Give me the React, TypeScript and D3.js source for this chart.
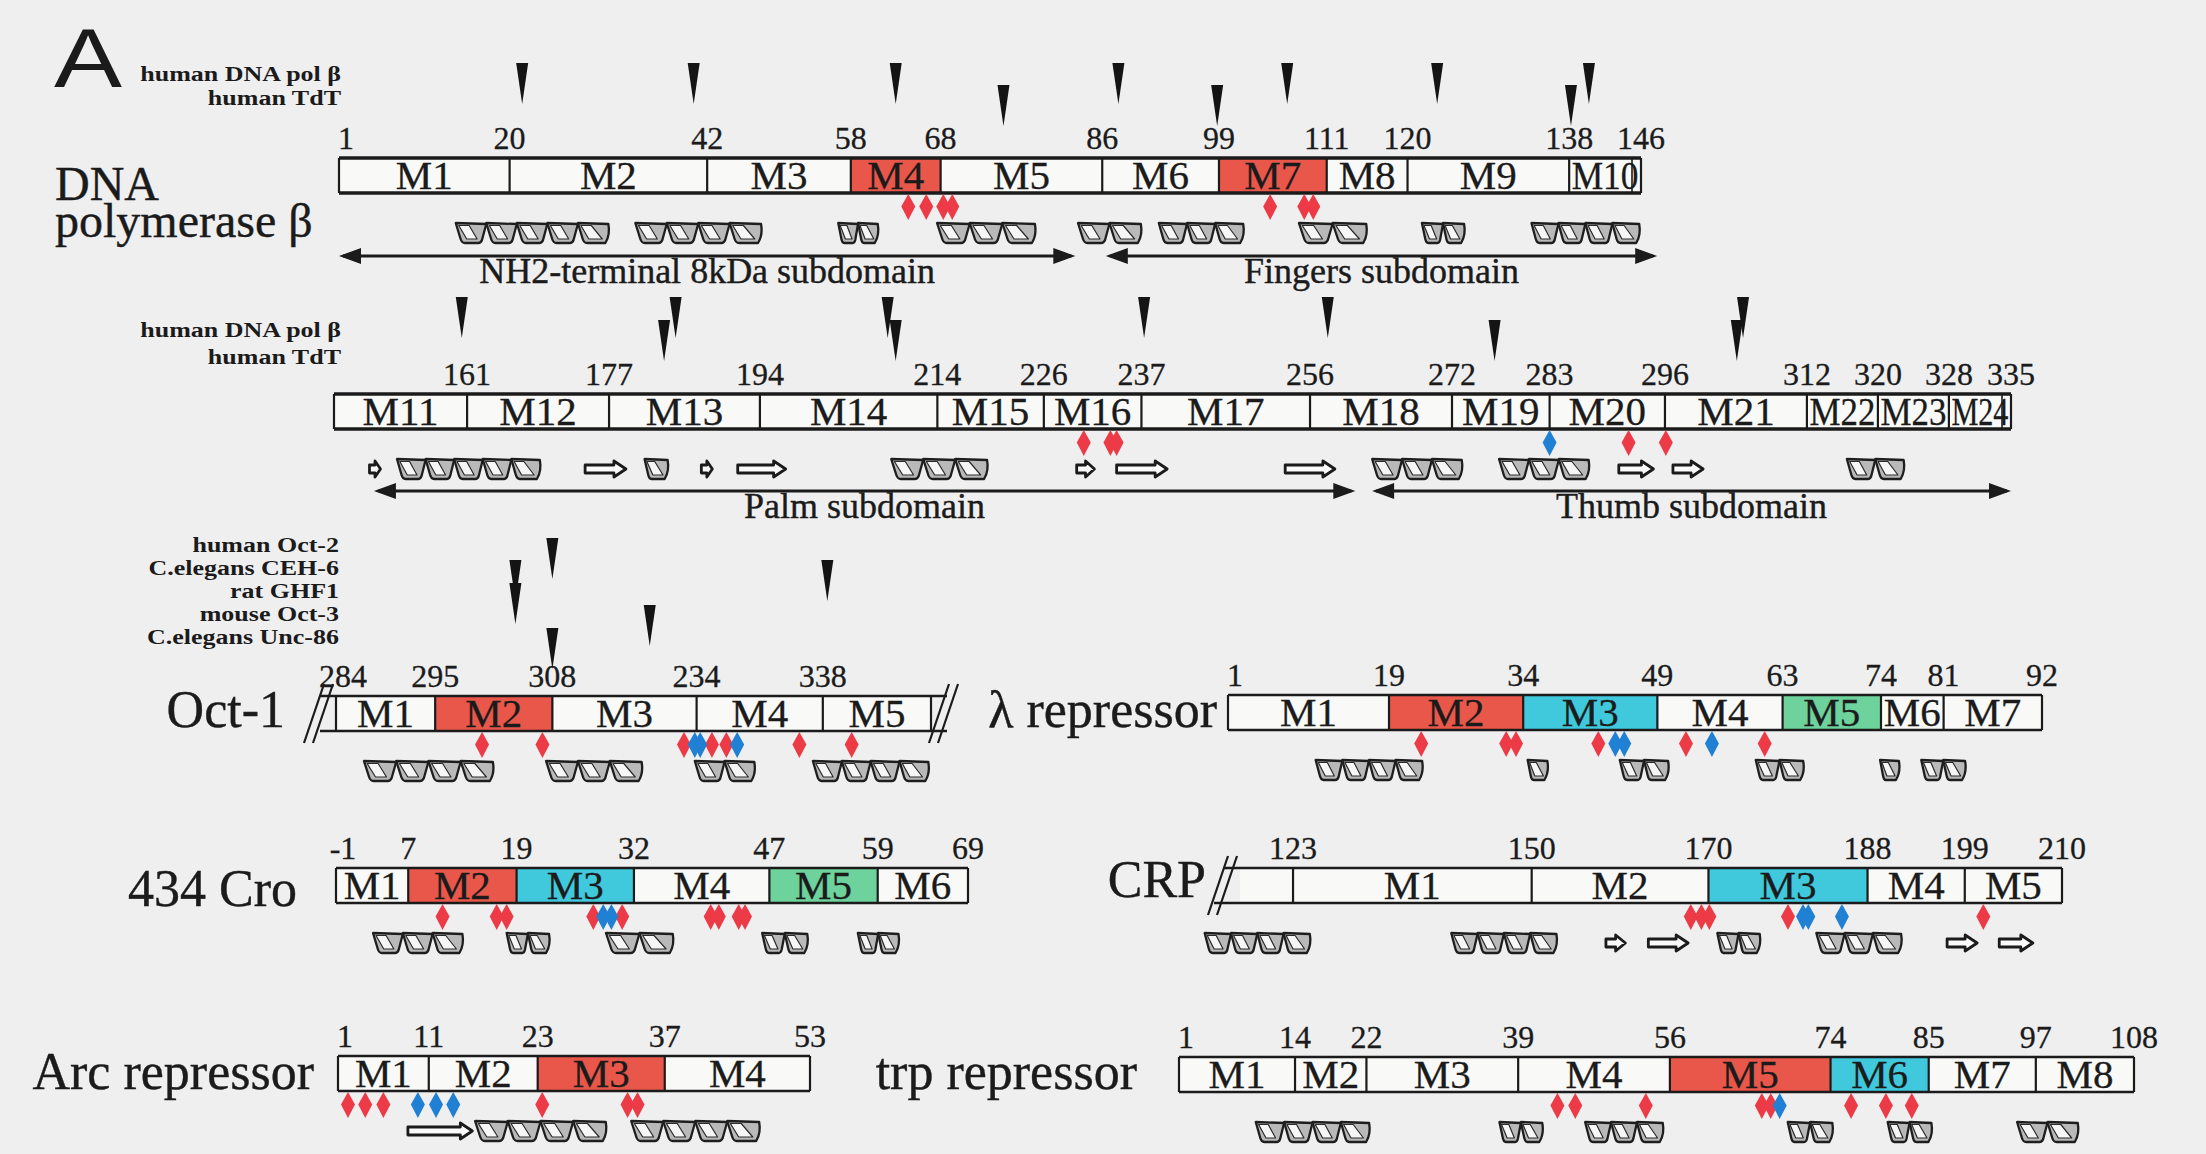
import React from "react";
import * as d3 from "d3";

const W = 2206;
const H = 1154;

// ===== DNA polymerase β, part 1 (residues 1–146)
const POLB1_BOUNDS = [1, 20, 42, 58, 68, 86, 99, 111, 120, 138, 146];
const POLB1_TICKS = ["1", "20", "42", "58", "68", "86", "99", "111", "120", "138", "146"];
const POLB1_MOTIFS = ["M1", "M2", "M3", "M4", "M5", "M6", "M7", "M8", "M9", "M10"];
const POLB1_FILLS = ["w", "w", "w", "r", "w", "w", "r", "w", "w", "w"];
const POLB1_RED = [64.4, 66.4, 68.3, 69.3, 104.7, 108.5, 109.5];
const POLB1_BLUE: number[] = [];
const POLB1_HELICES = [[14, 31, 5], [34, 48, 4], [56.6, 61, 2], [67.6, 78.5, 3], [83.3, 90.3, 2], [92.3, 101.7, 3], [107.9, 115.4, 2], [121.6, 126.3, 2], [133.8, 145.8, 4]];
const POLB1_STRANDS: number[][] = [];
const POLB1_MARKS = [[21.4, 0], [40.5, 0], [63, 0], [75, 1], [87.8, 0], [98.8, 1], [106.6, 0], [123.3, 0], [138.2, 1], [140.2, 0]];
const POLB1_DOMAINS: [string, number, number][] = [["NH2-terminal 8kDa subdomain", 1, 83], ["Fingers subdomain", 86.4, 147.8]];
const POLB_SPECIES = ["human DNA pol β", "human TdT"];

// ===== DNA polymerase β, part 2 (residues 146–335)
const POLB2_BOUNDS = [146, 161, 177, 194, 214, 226, 237, 256, 272, 283, 296, 312, 320, 328, 335];
const POLB2_TICKS = ["", "161", "177", "194", "214", "226", "237", "256", "272", "283", "296", "312", "320", "328", "335"];
const POLB2_MOTIFS = ["M11", "M12", "M13", "M14", "M15", "M16", "M17", "M18", "M19", "M20", "M21", "M22", "M23", "M24"];
const POLB2_FILLS = ["w", "w", "w", "w", "w", "w", "w", "w", "w", "w", "w", "w", "w", "w"];
const POLB2_RED = [230.5, 233.5, 234.2, 291.9, 296.1];
const POLB2_BLUE = [283];
const POLB2_HELICES = [[153.1, 169.2, 5], [181, 183.6, 1], [208.8, 219.6, 3], [263, 273.1, 3], [277.3, 287.4, 3], [316.5, 322.9, 2]];
const POLB2_STRANDS = [[150, 151.2], [174.3, 178.9], [187.4, 188.6], [191.5, 196.9], [229.7, 231.7], [234.2, 239.9], [253.2, 258.8], [290.8, 294.7], [296.9, 300.3]];
const POLB2_MARKS = [[160.4, 0], [184.5, 0], [183.2, 1], [208.4, 0], [209.3, 1], [237.3, 0], [258, 0], [276.8, 1], [304.8, 0], [304.1, 1]];
const POLB2_DOMAINS: [string, number, number][] = [["Palm subdomain", 150.5, 261.1], ["Thumb subdomain", 263, 335]];

// ===== Oct-1
const OCT_BOUNDS = [284, 295, 308, 324, 338, 350];
const OCT_TICKS = ["284", "295", "308", "234", "338", ""];
const OCT_MOTIFS = ["M1", "M2", "M3", "M4", "M5"];
const OCT_FILLS = ["w", "r", "w", "w", "w"];
const OCT_RED = [300.2, 306.9, 322.6, 325.7, 327.3, 335.4, 341.2];
const OCT_BLUE = [323.8, 324.4, 328.5];
const OCT_HELICES = [[287.1, 301.4, 4], [307.3, 317.9, 3], [323.8, 330.4, 2], [336.9, 349.7, 4]];
const OCT_STRANDS: number[][] = [];
const OCT_MARKS = [[308, 0], [303.9, 1], [303.9, 2], [308, 4], [318.8, 3], [338.5, 1]];
const OCT_SPECIES = ["human Oct-2", "C.elegans CEH-6", "rat GHF1", "mouse Oct-3", "C.elegans Unc-86"];

// ===== λ repressor
const LAM_BOUNDS = [1, 19, 34, 49, 63, 74, 81, 92];
const LAM_TICKS = ["1", "19", "34", "49", "63", "74", "81", "92"];
const LAM_MOTIFS = ["M1", "M2", "M3", "M4", "M5", "M6", "M7"];
const LAM_FILLS = ["w", "r", "c", "w", "g", "w", "w"];
const LAM_RED = [22.6, 32.1, 33.2, 42.4, 52.2, 61];
const LAM_BLUE = [44.3, 45.3, 55.1];
const LAM_HELICES = [[10.8, 22.7, 4], [34.5, 36.7, 1], [44.8, 50.2, 2], [60, 65.3, 2], [73.9, 76, 1], [78.5, 83.4, 2]];
const LAM_STRANDS: number[][] = [];

// ===== 434 Cro
const CRO_BOUNDS = [-1, 7, 19, 32, 47, 59, 69];
const CRO_TICKS = ["-1", "7", "19", "32", "47", "59", "69"];
const CRO_MOTIFS = ["M1", "M2", "M3", "M4", "M5", "M6"];
const CRO_FILLS = ["w", "r", "c", "w", "g", "w"];
const CRO_RED = [10.8, 16.8, 17.9, 27.5, 30.7, 40.5, 41.4, 43.6, 44.3];
const CRO_BLUE = [28.6, 29.5];
const CRO_HELICES = [[3.1, 13, 3], [17.9, 22.6, 2], [28.9, 36.3, 2], [46.2, 51.2, 2], [56.8, 61.3, 2]];
const CRO_STRANDS: number[][] = [];

// ===== CRP
const CRP_BOUNDS = [117, 123, 150, 170, 188, 199, 210];
const CRP_TICKS = ["", "123", "150", "170", "188", "199", "210"];
const CRP_MOTIFS = ["", "M1", "M2", "M3", "M4", "M5"];
const CRP_FILLS = ["w", "w", "w", "c", "w", "w"];
const CRP_RED = [168, 169.2, 170.1, 179, 201.1];
const CRP_BLUE = [180.7, 181.3, 185.1];
const CRP_HELICES = [[113, 124.9, 4], [140.9, 152.8, 4], [171, 175.8, 2], [182.2, 191.8, 3]];
const CRP_STRANDS = [[158.4, 160.6], [163.2, 167.7], [197, 200.4], [202.9, 206.7]];

// ===== Arc repressor
const ARC_BOUNDS = [1, 11, 23, 37, 53];
const ARC_TICKS = ["1", "11", "23", "37", "53"];
const ARC_MOTIFS = ["M1", "M2", "M3", "M4"];
const ARC_FILLS = ["w", "w", "r", "w"];
const ARC_RED = [2.1, 4, 6, 23.5, 32.9, 34];
const ARC_BLUE = [9.8, 11.8, 13.7];
const ARC_HELICES = [[16.1, 30.5, 4], [33.3, 47.4, 4]];
const ARC_STRANDS = [[8.7, 15.8]];

// ===== trp repressor
const TRP_BOUNDS = [1, 14, 22, 39, 56, 74, 85, 97, 108];
const TRP_TICKS = ["1", "14", "22", "39", "56", "74", "85", "97", "108"];
const TRP_MOTIFS = ["M1", "M2", "M3", "M4", "M5", "M6", "M7", "M8"];
const TRP_FILLS = ["w", "w", "w", "w", "r", "c", "w", "w"];
const TRP_RED = [43.4, 45.4, 53.3, 66.3, 67.3, 76.3, 80.2, 83.1];
const TRP_BLUE = [68.3];
const TRP_HELICES = [[9.6, 22.3, 4], [36.9, 41.7, 2], [46.5, 55.2, 3], [69.2, 74.2, 2], [80.4, 85.3, 2], [94.9, 101.7, 2]];
const TRP_STRANDS: number[][] = [];

// ---------------- styling ----------------
const FILL: Record<string, string> = { w: "#f9f9f8", r: "#e9574a", c: "#40c9dc", g: "#6dd29b" };
const RED = "#ec3a46";
const BLUE = "#1f80d4";
const INK = "#1b1b1b";
const SERIF = "'Liberation Serif', 'Times New Roman', serif";
const BAR_H = 35;
const MOTIF_FS = 41;

type PanelDef = {
  key: string;
  bounds: number[];
  ticks: string[];
  motifs: string[];
  fills: string[];
  red: number[];
  blue: number[];
  helices: number[][];
  strands: number[][];
  marks?: number[][];
  markTops?: number[];
  x0: number;
  x1: number;
  y: number;
  heavy?: boolean;
  breakLeft?: boolean;
  breakRight?: boolean;
  openLeft?: boolean;
  domains?: [string, number, number][];
  domainY?: number;
};

const PANELS: PanelDef[] = [
  { key: "polb1", bounds: POLB1_BOUNDS, ticks: POLB1_TICKS, motifs: POLB1_MOTIFS, fills: POLB1_FILLS, red: POLB1_RED, blue: POLB1_BLUE, helices: POLB1_HELICES, strands: POLB1_STRANDS, marks: POLB1_MARKS, markTops: [63, 85], x0: 339, x1: 1641, y: 158, heavy: true, domains: POLB1_DOMAINS, domainY: 256 },
  { key: "polb2", bounds: POLB2_BOUNDS, ticks: POLB2_TICKS, motifs: POLB2_MOTIFS, fills: POLB2_FILLS, red: POLB2_RED, blue: POLB2_BLUE, helices: POLB2_HELICES, strands: POLB2_STRANDS, marks: POLB2_MARKS, markTops: [297, 320], x0: 334, x1: 2011, y: 394, heavy: true, domains: POLB2_DOMAINS, domainY: 491 },
  { key: "oct", bounds: OCT_BOUNDS, ticks: OCT_TICKS, motifs: OCT_MOTIFS, fills: OCT_FILLS, red: OCT_RED, blue: OCT_BLUE, helices: OCT_HELICES, strands: OCT_STRANDS, marks: OCT_MARKS, markTops: [538, 560, 583, 605, 628], x0: 336, x1: 931, y: 696, breakLeft: true, breakRight: true },
  { key: "lam", bounds: LAM_BOUNDS, ticks: LAM_TICKS, motifs: LAM_MOTIFS, fills: LAM_FILLS, red: LAM_RED, blue: LAM_BLUE, helices: LAM_HELICES, strands: LAM_STRANDS, x0: 1228, x1: 2042, y: 695 },
  { key: "cro", bounds: CRO_BOUNDS, ticks: CRO_TICKS, motifs: CRO_MOTIFS, fills: CRO_FILLS, red: CRO_RED, blue: CRO_BLUE, helices: CRO_HELICES, strands: CRO_STRANDS, x0: 336, x1: 968, y: 868 },
  { key: "crp", bounds: CRP_BOUNDS, ticks: CRP_TICKS, motifs: CRP_MOTIFS, fills: CRP_FILLS, red: CRP_RED, blue: CRP_BLUE, helices: CRP_HELICES, strands: CRP_STRANDS, x0: 1240, x1: 2062, y: 868, breakLeft: true, openLeft: true },
  { key: "arc", bounds: ARC_BOUNDS, ticks: ARC_TICKS, motifs: ARC_MOTIFS, fills: ARC_FILLS, red: ARC_RED, blue: ARC_BLUE, helices: ARC_HELICES, strands: ARC_STRANDS, x0: 338, x1: 810, y: 1056 },
  { key: "trp", bounds: TRP_BOUNDS, ticks: TRP_TICKS, motifs: TRP_MOTIFS, fills: TRP_FILLS, red: TRP_RED, blue: TRP_BLUE, helices: TRP_HELICES, strands: TRP_STRANDS, x0: 1179, x1: 2134, y: 1057 },
];

const lineGen = d3.line();
const poly = (pts: [number, number][]) => (lineGen(pts) || "") + "Z";

// rough advance width of a motif label in the serif face
const labelWidth = (s: string, fs: number) => s.split("").reduce((acc, ch) => acc + (ch === "M" ? 0.889 : 0.5), 0) * fs;

function Helix({ xa, xb, n, y }: { xa: number; xb: number; n: number; y: number }) {
  const h = 20;
  const w = (xb - xa) / n;
  const els: React.ReactNode[] = [];
  for (let i = 0; i < n; i++) {
    const a = xa + i * w;
    const last = i === n - 1;
    const p = d3.path();
    p.moveTo(a, y);
    p.lineTo(a + w, y + 1);
    if (last) {
      p.quadraticCurveTo(a + w + 2, y + h * 0.6, a + w - 3, y + h);
    } else {
      p.lineTo(a + 0.86 * w, y + h - 3);
      p.quadraticCurveTo(a + 0.82 * w, y + h, a + 0.74 * w, y + h);
    }
    p.lineTo(a + 0.3 * w, y + h);
    p.quadraticCurveTo(a + 0.2 * w, y + h, a + 0.16 * w, y + h - 4);
    p.closePath();
    els.push(<path key={"o" + i} d={p.toString()} fill="#b9b9b9" stroke="#1e1e1e" strokeWidth={2.3} strokeLinejoin="round" />);
    els.push(
      <path
        key={"f" + i}
        d={poly([[a + 0.1 * w, y + 2.5], [a + 0.44 * w, y + 2.5], [a + (last ? 0.8 : 0.7) * w, y + h - 4], [a + 0.36 * w, y + h - 4]])}
        fill="#f6f6f6"
        stroke="#2a2a2a"
        strokeWidth={1.2}
        strokeLinejoin="round"
      />
    );
  }
  return <g>{els}</g>;
}

function Strand({ xa, xb, yc }: { xa: number; xb: number; yc: number }) {
  const L = Math.max(xb - xa, 11);
  const hl = Math.min(12, L * 0.5);
  const e = xa + L;
  return (
    <path
      d={poly([[xa, yc - 4], [e - hl, yc - 4], [e - hl, yc - 8], [e, yc], [e - hl, yc + 8], [e - hl, yc + 4], [xa, yc + 4]])}
      fill="#fafafa"
      stroke={INK}
      strokeWidth={2.8}
      strokeLinejoin="round"
    />
  );
}

function Diamond({ x, y, color }: { x: number; y: number; color: string }) {
  return <path d={poly([[x, y], [x + 7, y + 12.5], [x, y + 26], [x - 7, y + 12.5]])} fill={color} />;
}

function Wedge({ x, top }: { x: number; top: number }) {
  return <path d={poly([[x - 6, top], [x + 6, top], [x, top + 41]])} fill="#141414" />;
}

function Slashes({ cx, y }: { cx: number; y: number }) {
  return (
    <g stroke={INK} strokeWidth={2.2}>
      {[0, 9].map((d) => (
        <line key={d} x1={cx + d - 10} y1={y + BAR_H + 12} x2={cx + d + 10} y2={y - 12} />
      ))}
    </g>
  );
}

function Panel({ p }: { p: PanelDef }) {
  const b = p.bounds;
  const x = d3.scaleLinear().domain([b[0], b[b.length - 1]]).range([p.x0, p.x1]);
  const y = p.y;
  const yb = y + BAR_H;
  const ssY = yb + 30;
  const sw = 2.2;
  const lineW = p.heavy ? 3.6 : 2.6;
  const ext = p.breakLeft ? 16 : 0;
  const extR = p.breakRight ? 16 : 0;
  return (
    <g>
      {p.motifs.map((m, i) => (
        <rect key={"s" + i} x={x(b[i])} y={y} width={x(b[i + 1]) - x(b[i])} height={BAR_H} fill={FILL[p.fills[i]]} />
      ))}
      {b.slice(1, -1).map((v, i) => (
        <line key={"d" + i} x1={x(v)} x2={x(v)} y1={y} y2={yb} stroke={INK} strokeWidth={sw} />
      ))}
      <line x1={x(b[0]) - ext} x2={x(b[b.length - 1]) + extR} y1={y} y2={y} stroke={INK} strokeWidth={lineW} />
      <line x1={x(b[0]) - ext - (p.openLeft ? 10 : 0)} x2={x(b[b.length - 1]) + extR} y1={yb} y2={yb} stroke={INK} strokeWidth={lineW} />
      {!p.openLeft && <line x1={x(b[0])} x2={x(b[0])} y1={y} y2={yb} stroke={INK} strokeWidth={sw} />}
      <line x1={x(b[b.length - 1])} x2={x(b[b.length - 1])} y1={y} y2={yb} stroke={INK} strokeWidth={sw} />
      {p.heavy && <line x1={x(b[b.length - 1]) - 9} x2={x(b[b.length - 1]) - 9} y1={y} y2={yb} stroke={INK} strokeWidth={1.6} />}
      {p.breakLeft && <Slashes cx={x(b[0]) - 22} y={y} />}
      {p.breakRight && <Slashes cx={x(b[b.length - 1]) + 8} y={y} />}
      {p.motifs.map((m, i) => {
        if (!m) return null;
        const segW = x(b[i + 1]) - x(b[i]);
        const natural = labelWidth(m, MOTIF_FS);
        const fit = natural > segW - 4;
        return (
          <text
            key={"m" + i}
            x={(x(b[i]) + x(b[i + 1])) / 2}
            y={y + 31}
            textAnchor="middle"
            fontFamily={SERIF}
            fontSize={MOTIF_FS}
            fill={INK}
            stroke={INK}
            strokeWidth={0.3}
            {...(fit ? { textLength: segW - 5, lengthAdjust: "spacingAndGlyphs" } : {})}
          >
            {m}
          </text>
        );
      })}
      {p.ticks.map((t, i) =>
        t ? (
          <text key={"t" + i} x={x(b[i]) + (i === 0 ? 7 : 0)} y={y - 9} textAnchor="middle" fontFamily={SERIF} fontSize={32} fill={INK} stroke={INK} strokeWidth={0.3}>
            {t}
          </text>
        ) : null
      )}
      {p.red.map((r, i) => <Diamond key={"r" + i} x={x(r)} y={yb + 1} color={RED} />)}
      {p.blue.map((r, i) => <Diamond key={"bl" + i} x={x(r)} y={yb + 1} color={BLUE} />)}
      {p.helices.map((h, i) => <Helix key={"h" + i} xa={x(h[0])} xb={x(h[1])} n={h[2]} y={ssY} />)}
      {p.strands.map((s, i) => <Strand key={"st" + i} xa={x(s[0])} xb={x(s[1])} yc={ssY + 10} />)}
      {p.marks && p.markTops && p.marks.map((m, i) => <Wedge key={"w" + i} x={x(m[0])} top={p.markTops![m[1]]} />)}
      {p.domains &&
        p.domains.map(([label, r0, r1], i) => {
          const xa = x(r0);
          const xb = x(r1);
          const yy = p.domainY!;
          return (
            <g key={"dom" + i}>
              <line x1={xa + 4} x2={xb - 4} y1={yy} y2={yy} stroke={INK} strokeWidth={2.8} />
              <path d={poly([[xa, yy], [xa + 22, yy - 8], [xa + 22, yy + 8]])} fill={INK} />
              <path d={poly([[xb, yy], [xb - 22, yy - 8], [xb - 22, yy + 8]])} fill={INK} />
              <text x={(xa + xb) / 2} y={yy + 27} textAnchor="middle" fontFamily={SERIF} fontSize={36} fill={INK} stroke={INK} strokeWidth={0.4}>
                {label}
              </text>
            </g>
          );
        })}
    </g>
  );
}

const NAME_LABELS: [string, number, number][] = [
  ["Oct-1", 285, 727],
  ["λ repressor", 1217, 727],
  ["434 Cro", 297, 906],
  ["CRP", 1206, 897],
  ["Arc repressor", 314, 1089],
  ["trp repressor", 1137, 1089],
];

// species names: small bold serif, widened like the printed figure
function SpeciesList({ names, right, baselines }: { names: string[]; right: number; baselines: number[] }) {
  return (
    <g transform={`translate(${right},0) scale(1.3,1)`}>
      {names.map((s, i) => (
        <text key={s + i} x={0} y={baselines[i]} textAnchor="end" fontFamily={SERIF} fontWeight="bold" fontSize={20} fill={INK}>
          {s}
        </text>
      ))}
    </g>
  );
}

export default function App() {
  return (
    <div style={{ position: "absolute", left: 0, top: 0, width: W, height: H }}>
      <svg width={W} height={H} viewBox={`0 0 ${W} ${H}`} style={{ display: "block" }}>
        <rect x={0} y={0} width={W} height={H} fill="#efeff0" />
        <text x={54} y={87} fontFamily="'Liberation Sans', Arial, sans-serif" fontSize={84} fill={INK} textLength={68} lengthAdjust="spacingAndGlyphs">
          A
        </text>
        <text x={55} y={200} fontFamily={SERIF} fontSize={48} fill={INK} stroke={INK} strokeWidth={0.4}>DNA</text>
        <text x={55} y={237} fontFamily={SERIF} fontSize={48} fill={INK} stroke={INK} strokeWidth={0.4}>polymerase β</text>
        <SpeciesList names={POLB_SPECIES} right={341} baselines={[81, 105]} />
        <SpeciesList names={POLB_SPECIES} right={341} baselines={[337, 364]} />
        <SpeciesList names={OCT_SPECIES} right={339} baselines={[552, 575, 598, 621, 644]} />
        {NAME_LABELS.map(([s, xx, yy]) => (
          <text key={s} x={xx} y={yy} textAnchor="end" fontFamily={SERIF} fontSize={52} fill={INK} stroke={INK} strokeWidth={0.4}>{s}</text>
        ))}
        {PANELS.map((p) => (
          <Panel key={p.key} p={p} />
        ))}
      </svg>
    </div>
  );
}
